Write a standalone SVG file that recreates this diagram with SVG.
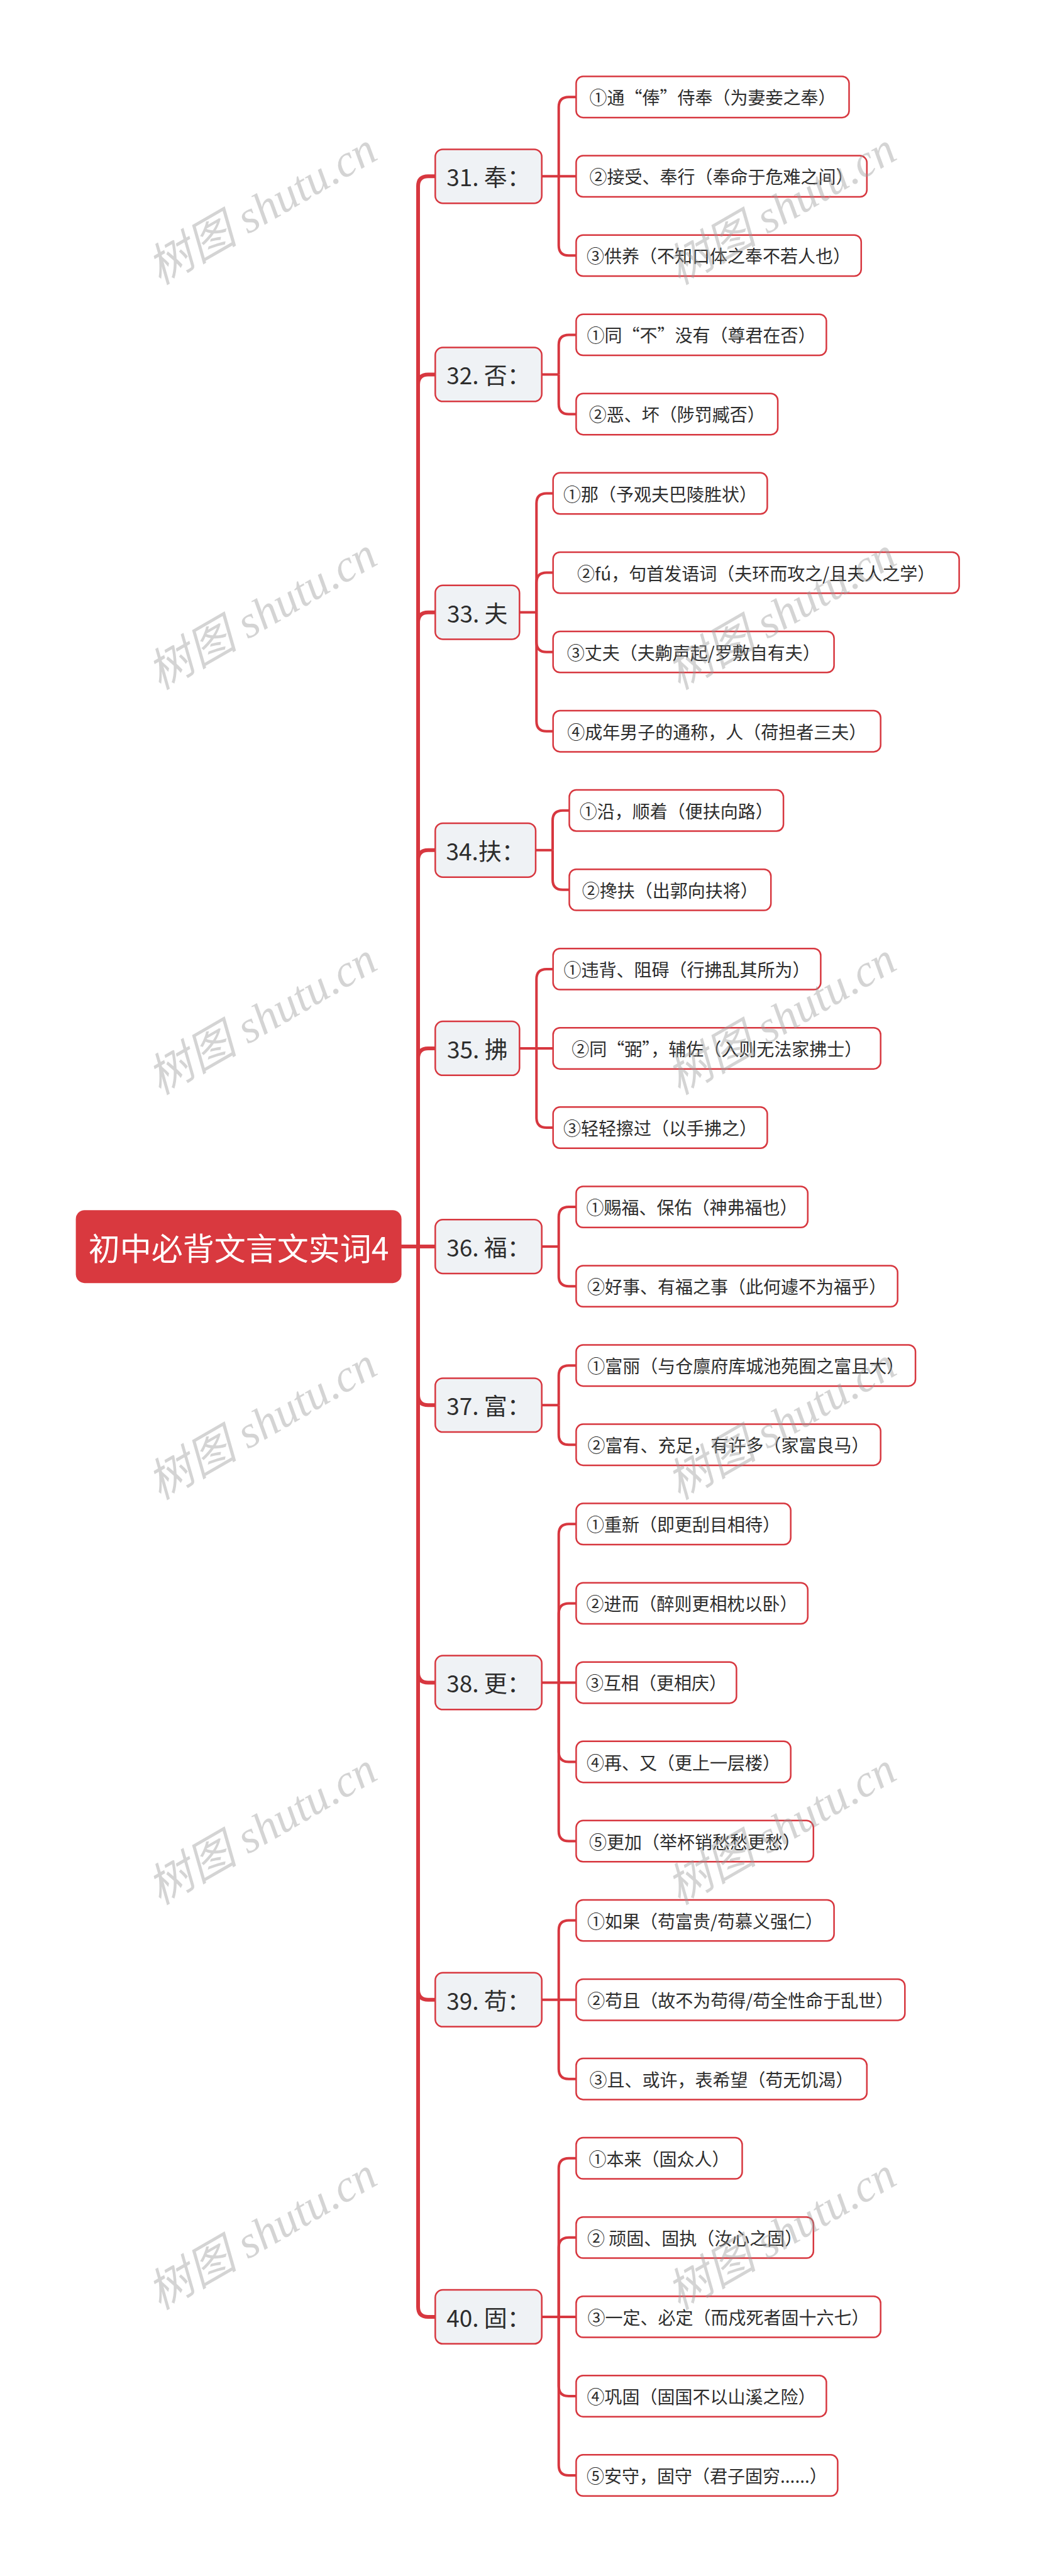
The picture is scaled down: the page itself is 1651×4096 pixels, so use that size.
<svg xmlns="http://www.w3.org/2000/svg" width="1651" height="4096" viewBox="0 0 1651 4096">
<style>
text{font-family:"Noto Sans CJK SC","Noto Sans",sans-serif;text-anchor:middle;dominant-baseline:central}
.c1{fill:none;stroke:#d7373f;stroke-width:6;stroke-linecap:round}
.c2{fill:none;stroke:#d7373f;stroke-width:4}
.root rect{fill:#d9393f}
.root text{fill:#ffffff;font-size:50px}
.l1 rect{fill:#eff2f5;stroke:#d7373f;stroke-width:2.5}
.l1 text{fill:#2d2d2d;font-size:37px}
.l2 rect{fill:#ffffff;stroke:#d7373f;stroke-width:2.5}
.l2 text{fill:#2d2d2d;font-size:28px}
.wm{font-family:"Liberation Serif","Noto Sans CJK SC",serif;font-style:italic;font-size:72px;fill:#9a9a9a;opacity:.42}
</style>
<rect width="1651" height="4096" fill="#ffffff"/>
<g id="connectors">
<path class="c1" d="M638.6,1982.1 H692.3"/>
<path class="c1" d="M665,1982.1 V296.3 Q665,280.3 681,280.3 H692.3"/>
<path class="c1" d="M665,1982.1 V611.45 Q665,595.45 681,595.45 H692.3"/>
<path class="c1" d="M665,1982.1 V989.63 Q665,973.63 681,973.63 H692.3"/>
<path class="c1" d="M665,1982.1 V1367.81 Q665,1351.81 681,1351.81 H692.3"/>
<path class="c1" d="M665,1982.1 V1682.96 Q665,1666.96 681,1666.96 H692.3"/>
<path class="c1" d="M665,1982.1 V2218.23 Q665,2234.23 681,2234.23 H692.3"/>
<path class="c1" d="M665,1982.1 V2659.44 Q665,2675.44 681,2675.44 H692.3"/>
<path class="c1" d="M665,1982.1 V3163.68 Q665,3179.68 681,3179.68 H692.3"/>
<path class="c1" d="M665,1982.1 V3667.92 Q665,3683.92 681,3683.92 H692.3"/>
<path class="c2" d="M861.7,280.3 H916.4"/>
<path class="c2" d="M888.7,280.3 V170.24 Q888.7,154.24 904.7,154.24 H916.4"/>
<path class="c2" d="M888.7,280.3 V390.36 Q888.7,406.36 904.7,406.36 H916.4"/>
<path class="c2" d="M861.7,595.45 H888.7"/>
<path class="c2" d="M888.7,595.45 V548.42 Q888.7,532.42 904.7,532.42 H916.4"/>
<path class="c2" d="M888.7,595.45 V642.48 Q888.7,658.48 904.7,658.48 H916.4"/>
<path class="c2" d="M826.3,973.63 H853.3"/>
<path class="c2" d="M853.3,973.63 V800.54 Q853.3,784.54 869.3,784.54 H879.7"/>
<path class="c2" d="M853.3,973.63 V926.6 Q853.3,910.6 869.3,910.6 H879.7"/>
<path class="c2" d="M853.3,973.63 V1020.66 Q853.3,1036.66 869.3,1036.66 H879.7"/>
<path class="c2" d="M853.3,973.63 V1146.72 Q853.3,1162.72 869.3,1162.72 H879.7"/>
<path class="c2" d="M852,1351.81 H879"/>
<path class="c2" d="M879,1351.81 V1304.78 Q879,1288.78 895,1288.78 H905.5"/>
<path class="c2" d="M879,1351.81 V1398.84 Q879,1414.84 895,1414.84 H905.5"/>
<path class="c2" d="M826.3,1666.96 H879.7"/>
<path class="c2" d="M853.3,1666.96 V1556.9 Q853.3,1540.9 869.3,1540.9 H879.7"/>
<path class="c2" d="M853.3,1666.96 V1777.02 Q853.3,1793.02 869.3,1793.02 H879.7"/>
<path class="c2" d="M861.7,1982.11 H888.7"/>
<path class="c2" d="M888.7,1982.11 V1935.08 Q888.7,1919.08 904.7,1919.08 H916.4"/>
<path class="c2" d="M888.7,1982.11 V2029.14 Q888.7,2045.14 904.7,2045.14 H916.4"/>
<path class="c2" d="M861.7,2234.23 H888.7"/>
<path class="c2" d="M888.7,2234.23 V2187.2 Q888.7,2171.2 904.7,2171.2 H916.4"/>
<path class="c2" d="M888.7,2234.23 V2281.26 Q888.7,2297.26 904.7,2297.26 H916.4"/>
<path class="c2" d="M861.7,2675.44 H916.4"/>
<path class="c2" d="M888.7,2675.44 V2439.32 Q888.7,2423.32 904.7,2423.32 H916.4"/>
<path class="c2" d="M888.7,2675.44 V2565.38 Q888.7,2549.38 904.7,2549.38 H916.4"/>
<path class="c2" d="M888.7,2675.44 V2785.5 Q888.7,2801.5 904.7,2801.5 H916.4"/>
<path class="c2" d="M888.7,2675.44 V2911.56 Q888.7,2927.56 904.7,2927.56 H916.4"/>
<path class="c2" d="M861.7,3179.68 H916.4"/>
<path class="c2" d="M888.7,3179.68 V3069.62 Q888.7,3053.62 904.7,3053.62 H916.4"/>
<path class="c2" d="M888.7,3179.68 V3289.74 Q888.7,3305.74 904.7,3305.74 H916.4"/>
<path class="c2" d="M861.7,3683.92 H916.4"/>
<path class="c2" d="M888.7,3683.92 V3447.8 Q888.7,3431.8 904.7,3431.8 H916.4"/>
<path class="c2" d="M888.7,3683.92 V3573.86 Q888.7,3557.86 904.7,3557.86 H916.4"/>
<path class="c2" d="M888.7,3683.92 V3793.98 Q888.7,3809.98 904.7,3809.98 H916.4"/>
<path class="c2" d="M888.7,3683.92 V3920.04 Q888.7,3936.04 904.7,3936.04 H916.4"/>
</g>
<g id="root" class="root"><rect x="120.6" y="1924.2" width="518" height="116" rx="14"/><text x="379.6" y="1982.2">初中必背文言文实词4</text></g>
<g id="n31" class="l1"><rect x="692.3" y="237.45" width="169.4" height="85.7" rx="12"/><text x="777" y="280.3">31. 奉：</text></g>
<g id="n32" class="l1"><rect x="692.3" y="552.6" width="169.4" height="85.7" rx="12"/><text x="777" y="595.45">32. 否：</text></g>
<g id="n33" class="l1"><rect x="692.3" y="930.78" width="134" height="85.7" rx="12"/><text x="759.3" y="973.63">33. 夫</text></g>
<g id="n34" class="l1"><rect x="692.3" y="1308.96" width="159.7" height="85.7" rx="12"/><text x="772.15" y="1351.81">34.扶：</text></g>
<g id="n35" class="l1"><rect x="692.3" y="1624.11" width="134" height="85.7" rx="12"/><text x="759.3" y="1666.96">35. 拂</text></g>
<g id="n36" class="l1"><rect x="692.3" y="1939.26" width="169.4" height="85.7" rx="12"/><text x="777" y="1982.11">36. 福：</text></g>
<g id="n37" class="l1"><rect x="692.3" y="2191.38" width="169.4" height="85.7" rx="12"/><text x="777" y="2234.23">37. 富：</text></g>
<g id="n38" class="l1"><rect x="692.3" y="2632.59" width="169.4" height="85.7" rx="12"/><text x="777" y="2675.44">38. 更：</text></g>
<g id="n39" class="l1"><rect x="692.3" y="3136.83" width="169.4" height="85.7" rx="12"/><text x="777" y="3179.68">39. 苟：</text></g>
<g id="n40" class="l1"><rect x="692.3" y="3641.07" width="169.4" height="85.7" rx="12"/><text x="777" y="3683.92">40. 固：</text></g>
<g id="n31-1" class="l2"><rect x="916.4" y="121.54" width="434.1" height="65.4" rx="11"/><text x="1133.45" y="154.24">①通“俸”侍奉（为妻妾之奉）</text></g>
<g id="n31-2" class="l2"><rect x="916.4" y="247.6" width="462.4" height="65.4" rx="11"/><text x="1147.6" y="280.3">②接受、奉行（奉命于危难之间）</text></g>
<g id="n31-3" class="l2"><rect x="916.4" y="373.66" width="453.4" height="65.4" rx="11"/><text x="1143.1" y="406.36">③供养（不知口体之奉不若人也）</text></g>
<g id="n32-1" class="l2"><rect x="916.4" y="499.72" width="398" height="65.4" rx="11"/><text x="1115.4" y="532.42">①同“不”没有（尊君在否）</text></g>
<g id="n32-2" class="l2"><rect x="916.4" y="625.78" width="320.7" height="65.4" rx="11"/><text x="1076.75" y="658.48">②恶、坏（陟罚臧否）</text></g>
<g id="n33-1" class="l2"><rect x="879.7" y="751.84" width="340.7" height="65.4" rx="11"/><text x="1050.05" y="784.54">①那（予观夫巴陵胜状）</text></g>
<g id="n33-2" class="l2"><rect x="879.7" y="877.9" width="645.9" height="65.4" rx="11"/><text x="1202.65" y="910.6">②fú，句首发语词（夫环而攻之/且夫人之学）</text></g>
<g id="n33-3" class="l2"><rect x="879.7" y="1003.96" width="446.9" height="65.4" rx="11"/><text x="1103.15" y="1036.66">③丈夫（夫齁声起/罗敷自有夫）</text></g>
<g id="n33-4" class="l2"><rect x="879.7" y="1130.02" width="521" height="65.4" rx="11"/><text x="1140.2" y="1162.72">④成年男子的通称，人（荷担者三夫）</text></g>
<g id="n34-1" class="l2"><rect x="905.5" y="1256.08" width="340.6" height="65.4" rx="11"/><text x="1075.8" y="1288.78">①沿，顺着（便扶向路）</text></g>
<g id="n34-2" class="l2"><rect x="905.5" y="1382.14" width="320.7" height="65.4" rx="11"/><text x="1065.85" y="1414.84">②搀扶（出郭向扶将）</text></g>
<g id="n35-1" class="l2"><rect x="879.7" y="1508.2" width="425.7" height="65.4" rx="11"/><text x="1092.55" y="1540.9">①违背、阻碍（行拂乱其所为）</text></g>
<g id="n35-2" class="l2"><rect x="879.7" y="1634.26" width="521" height="65.4" rx="11"/><text x="1140.2" y="1666.96">②同“弼”，辅佐（入则无法家拂士）</text></g>
<g id="n35-3" class="l2"><rect x="879.7" y="1760.32" width="340.7" height="65.4" rx="11"/><text x="1050.05" y="1793.02">③轻轻擦过（以手拂之）</text></g>
<g id="n36-1" class="l2"><rect x="916.4" y="1886.38" width="368.4" height="65.4" rx="11"/><text x="1100.6" y="1919.08">①赐福、保佑（神弗福也）</text></g>
<g id="n36-2" class="l2"><rect x="916.4" y="2012.44" width="511.3" height="65.4" rx="11"/><text x="1172.05" y="2045.14">②好事、有福之事（此何遽不为福乎）</text></g>
<g id="n37-1" class="l2"><rect x="916.4" y="2138.5" width="539.7" height="65.4" rx="11"/><text x="1186.25" y="2171.2">①富丽（与仓廪府库城池苑囿之富且大）</text></g>
<g id="n37-2" class="l2"><rect x="916.4" y="2264.56" width="484.3" height="65.4" rx="11"/><text x="1158.55" y="2297.26">②富有、充足，有许多（家富良马）</text></g>
<g id="n38-1" class="l2"><rect x="916.4" y="2390.62" width="341.3" height="65.4" rx="11"/><text x="1087.05" y="2423.32">①重新（即更刮目相待）</text></g>
<g id="n38-2" class="l2"><rect x="916.4" y="2516.68" width="368.4" height="65.4" rx="11"/><text x="1100.6" y="2549.38">②进而（醉则更相枕以卧）</text></g>
<g id="n38-3" class="l2"><rect x="916.4" y="2642.74" width="255" height="65.4" rx="11"/><text x="1043.9" y="2675.44">③互相（更相庆）</text></g>
<g id="n38-4" class="l2"><rect x="916.4" y="2768.8" width="341.3" height="65.4" rx="11"/><text x="1087.05" y="2801.5">④再、又（更上一层楼）</text></g>
<g id="n38-5" class="l2"><rect x="916.4" y="2894.86" width="377.4" height="65.4" rx="11"/><text x="1105.1" y="2927.56">⑤更加（举杯销愁愁更愁）</text></g>
<g id="n39-1" class="l2"><rect x="916.4" y="3020.92" width="410.2" height="65.4" rx="11"/><text x="1121.5" y="3053.62">①如果（苟富贵/苟慕义强仁）</text></g>
<g id="n39-2" class="l2"><rect x="916.4" y="3146.98" width="522.9" height="65.4" rx="11"/><text x="1177.85" y="3179.68">②苟且（故不为苟得/苟全性命于乱世）</text></g>
<g id="n39-3" class="l2"><rect x="916.4" y="3273.04" width="462.4" height="65.4" rx="11"/><text x="1147.6" y="3305.74">③且、或许，表希望（苟无饥渴）</text></g>
<g id="n40-1" class="l2"><rect x="916.4" y="3399.1" width="264.1" height="65.4" rx="11"/><text x="1048.45" y="3431.8">①本来（固众人）</text></g>
<g id="n40-2" class="l2"><rect x="916.4" y="3525.16" width="377.4" height="65.4" rx="11"/><text x="1105.1" y="3557.86">② 顽固、固执（汝心之固）</text></g>
<g id="n40-3" class="l2"><rect x="916.4" y="3651.22" width="484.3" height="65.4" rx="11"/><text x="1158.55" y="3683.92">③一定、必定（而戍死者固十六七）</text></g>
<g id="n40-4" class="l2"><rect x="916.4" y="3777.28" width="398" height="65.4" rx="11"/><text x="1115.4" y="3809.98">④巩固（固国不以山溪之险）</text></g>
<g id="n40-5" class="l2"><rect x="916.4" y="3903.34" width="416" height="65.4" rx="11"/><text x="1124.4" y="3936.04">⑤安守，固守（君子固穷......）</text></g>
<g id="watermarks">
<text class="wm" transform="translate(417,332) rotate(-30)">树图 shutu.cn</text>
<text class="wm" transform="translate(1243,332) rotate(-30)">树图 shutu.cn</text>
<text class="wm" transform="translate(417,976) rotate(-30)">树图 shutu.cn</text>
<text class="wm" transform="translate(1243,976) rotate(-30)">树图 shutu.cn</text>
<text class="wm" transform="translate(417,1620) rotate(-30)">树图 shutu.cn</text>
<text class="wm" transform="translate(1243,1620) rotate(-30)">树图 shutu.cn</text>
<text class="wm" transform="translate(417,2264) rotate(-30)">树图 shutu.cn</text>
<text class="wm" transform="translate(1243,2264) rotate(-30)">树图 shutu.cn</text>
<text class="wm" transform="translate(417,2908) rotate(-30)">树图 shutu.cn</text>
<text class="wm" transform="translate(1243,2908) rotate(-30)">树图 shutu.cn</text>
<text class="wm" transform="translate(417,3552) rotate(-30)">树图 shutu.cn</text>
<text class="wm" transform="translate(1243,3552) rotate(-30)">树图 shutu.cn</text>
</g>
</svg>
